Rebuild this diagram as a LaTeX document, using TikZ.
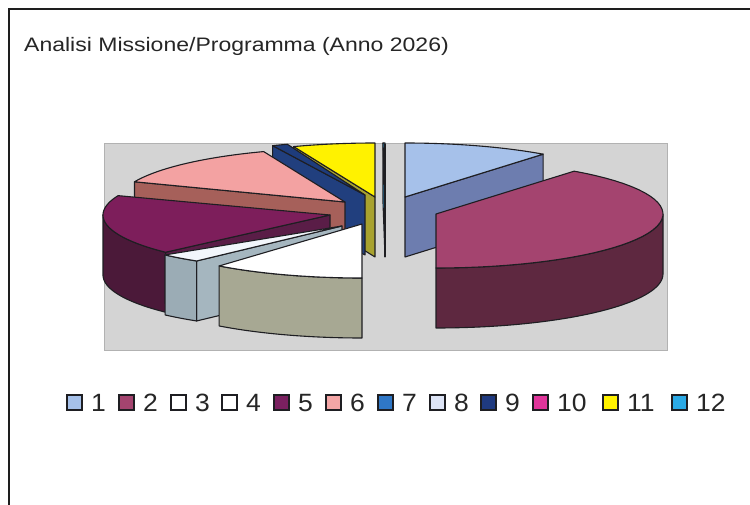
\documentclass[tikz,border=0pt]{standalone}
\usepackage{fontspec}
\setmainfont{Liberation Sans}
\definecolor{plotbg}{RGB}{212,212,212}
\definecolor{edgec}{RGB}{30,30,34}
\definecolor{framec}{RGB}{30,30,30}
\definecolor{c1}{HTML}{A6C1EA}\definecolor{c1side}{HTML}{6D7DAF}
\definecolor{c2}{HTML}{A4446F}\definecolor{c2side}{HTML}{5E2840}
\definecolor{c3}{HTML}{FFFFFF}\definecolor{c3side}{HTML}{A7A893}
\definecolor{c4}{HTML}{F2F6FB}\definecolor{c4side}{HTML}{9BACB5}\definecolor{c4rad}{HTML}{A5B6BF}
\definecolor{c5}{HTML}{7D1E5B}\definecolor{c5side}{HTML}{4B1939}\definecolor{c5rad}{HTML}{5A1D47}
\definecolor{c6}{HTML}{F3A2A2}\definecolor{c6side}{HTML}{A6605A}
\definecolor{c9}{HTML}{1E3C7C}\definecolor{c9side}{HTML}{213F7E}
\definecolor{c11}{HTML}{FFF200}\definecolor{c11side}{HTML}{A8A22F}
\definecolor{c12}{HTML}{2AA8E8}
\definecolor{lc1}{HTML}{A6C1EA}\definecolor{lc2}{HTML}{A4446F}
\definecolor{lc3}{HTML}{FFFFFF}\definecolor{lc4}{HTML}{FFFFFF}
\definecolor{lc5}{HTML}{7A2060}\definecolor{lc6}{HTML}{F4A6A6}
\definecolor{lc7}{HTML}{2F77C6}\definecolor{lc8}{HTML}{DDE4F6}
\definecolor{lc9}{HTML}{1F3A80}\definecolor{lc10}{HTML}{E0359B}
\definecolor{lc11}{HTML}{FFF200}\definecolor{lc12}{HTML}{2BAAE6}
\tikzset{
  face/.style={draw=edgec, line width=1.1pt, line join=round},
  lbox/.style={draw=edgec, line width=1.3pt, minimum width=15pt, minimum height=15pt, inner sep=0pt},
  ltext/.style={anchor=base west, inner sep=0pt, text=black!85, font=\fontsize{25}{28}\selectfont},
}
% top face: apex x, apex y, rx, ry, t1, t2, colour
\newcommand\pieTop[7]{\filldraw[face, fill=#7] (#1,#2) -- plot[domain=#5:#6, samples=40] ({#1+#3*cos(\x)},{#2-#4*sin(\x)}) -- cycle;}
% outer rim face
\newcommand\pieRim[7]{\filldraw[face, fill=#7] plot[domain=#5:#6, samples=40] ({#1+#3*cos(\x)},{#2-#4*sin(\x)}) -- plot[domain=#6:#5, samples=40] ({#1+#3*cos(\x)},{#2+60-#4*sin(\x)}) -- cycle;}
% radial face: apex x, apex y, rx, ry, t, colour
\newcommand\pieRad[6]{\filldraw[face, fill=#6] (#1,#2) -- ({#1+#3*cos(#5)},{#2-#4*sin(#5)}) -- ++(0,60) -- (#1,{#2+60}) -- cycle;}
\begin{document}
\begin{tikzpicture}[x=1pt,y=-1pt]
\useasboundingbox (0,0) rectangle (750,505);
\fill[white] (0,0) rectangle (750,505);
% outer frame (cropped at right and bottom)
\draw[framec, line width=2pt] (9,505) -- (9,9) -- (750,9);
% title
\node[anchor=base west, inner sep=0pt, text=black!85] (title) at (24,52)
  {\fontsize{19.5}{22}\selectfont\scalebox{1.18}[1]{Analisi Missione/Programma (Anno 2026)}};
% plot area
\filldraw[fill=plotbg, draw=gray!60, line width=0.8pt] (104,143) rectangle (667,350);
% --- left group, back to front ---
% slice 12 (thin)
\pieRad{385}{197}{227}{54}{90.5}{c12}
\pieTop{385}{197}{227}{54}{90}{90.5}{c12}
\draw[edgec, line width=1.6pt] (385,144) -- (385,257);
% slice 11
\pieRad{375}{197}{227}{54}{111}{c11side}
\pieTop{375}{197}{227}{54}{90}{111}{c11}
% slice 9
\pieRad{365}{195}{227}{54}{114}{c9side}
\pieTop{365}{195}{227}{54}{110}{114}{c9}
% slice 6
\pieRad{345}{202}{227}{54}{158}{c6side}
\pieTop{345}{202}{227}{54}{111}{158}{c6}
% slice 5
\pieRad{330}{215}{227}{54}{223.6}{c5rad}
\pieRim{330}{215}{227}{54}{180}{223.6}{c5side}
\pieTop{330}{215}{227}{54}{159}{223.6}{c5}
% slice 4
\pieRad{342}{226}{231}{45}{231}{c4rad}
\pieRim{342}{226}{231}{45}{220}{231}{c4side}
\pieTop{342}{226}{231}{45}{220}{231}{c4}
% slice 3
\pieRim{362}{224}{227}{54}{231}{270}{c3side}
\pieTop{362}{224}{227}{54}{231}{270}{c3}
% --- right group ---
% slice 1
\pieRad{405}{197}{227}{54}{52.5}{c1side}
\pieTop{405}{197}{227}{54}{52.5}{90}{c1}
% slice 2
\pieRim{436}{214}{227}{54}{-90}{0}{c2side}
\pieTop{436}{214}{227}{54}{-90}{52.5}{c2}
% legend
\foreach \i/\xx in {1/67,2/119,3/171,4/222,5/274,6/326,7/378,8/430,9/481,10/533,11/603,12/672}{
  \node[lbox, fill=lc\i] (b\i) at (\xx+7.5,402.5) {};
  \node[ltext] (t\i) at (\xx+24,411) {\scalebox{1.06}[1]{\i}};
}
\end{tikzpicture}
\end{document}
